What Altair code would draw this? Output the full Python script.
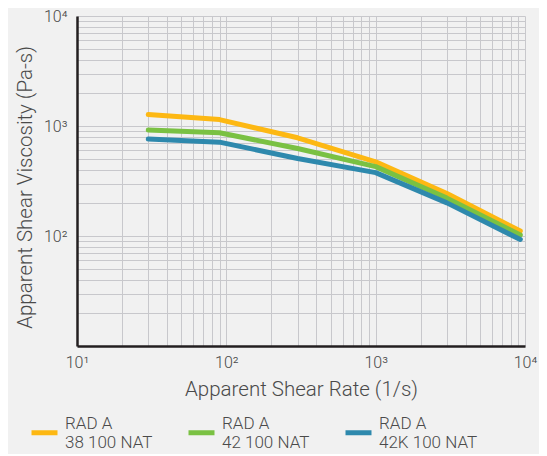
import altair as alt
import pandas as pd

shear_rate = [30, 90, 300, 1000, 3000, 9300]
visc_38 = [1270, 1143, 781, 472, 243, 111]
visc_42 = [918, 867, 624, 427, 221, 102]
visc_42k = [760, 713, 506, 377, 200, 93]
series_names = ["RAD A|38 100 NAT", "RAD A|42 100 NAT", "RAD A|42K 100 NAT"]
series_colors = ["#FDB813", "#7AC143", "#2E89AD"]

rows = []
for name, vals in zip(series_names, [visc_38, visc_42, visc_42k]):
    for x, y in zip(shear_rate, vals):
        rows.append({"rate": x, "visc": y, "series": name})
df = pd.DataFrame(rows)

grid_vals = [k * 10 ** e for e in range(1, 4) for k in range(1, 10)] + [10000]

x_label_expr = ("datum.value == 10 ? '10¹' : datum.value == 100 ? '10²' : "
                "datum.value == 1000 ? '10³' : datum.value == 10000 ? '10⁴' : ''")
y_label_expr = ("datum.value == 100 ? '10²' : datum.value == 1000 ? '10³' : "
                "datum.value == 10000 ? '10⁴' : ''")

FONT = "Roboto"
TXT = "#4a4a4a"

chart = alt.Chart(df).mark_line(strokeWidth=5, strokeCap="round", strokeJoin="round").encode(
    x=alt.X("rate:Q",
            scale=alt.Scale(type="log", domain=[10, 10000], nice=False),
            axis=alt.Axis(values=grid_vals, labelExpr=x_label_expr,
                          title="Apparent Shear Rate (1/s)",
                          titleY=49, titleBaseline="alphabetic",
                          labelPadding=8, labelOverlap=False, labelFlush=False)),
    y=alt.Y("visc:Q",
            scale=alt.Scale(type="log", domain=[10, 10000], nice=False),
            axis=alt.Axis(values=grid_vals, labelExpr=y_label_expr,
                          title="Apparent Shear Viscosity (Pa-s)",
                          titleX=-46, titleY=171, titleBaseline="alphabetic",
                          titleAlign="center", titleAngle=-90,
                          labelPadding=10, labelOverlap=False, labelFlush=False)),
    color=alt.Color("series:N",
                    scale=alt.Scale(domain=series_names, range=series_colors),
                    legend=alt.Legend(title=None, orient="none", direction="horizontal",
                                      columns=3, legendX=-48, legendY=401,
                                      symbolType="stroke", symbolSize=676,
                                      symbolStrokeWidth=5, columnPadding=25,
                                      labelOffset=5, padding=0,
                                      labelBaseline="bottom",
                                      labelExpr="split(datum.label, '|')",
                                      labelFontSize=17, labelFont=FONT,
                                      labelFontWeight=300, labelColor=TXT,
                                      labelLimit=200)),
).properties(
    width=448,
    height=330,
    autosize=alt.AutoSizeParams(type="none"),
    padding={"left": 69, "top": 8, "right": 14, "bottom": 108},
    background="#f1f1f1",
).configure_view(
    stroke=None
).configure_axis(
    grid=True,
    gridColor="#c8c8cc",
    gridWidth=1,
    ticks=False,
    domainColor="#231f20",
    domainWidth=2.5,
    labelFont=FONT,
    labelFontSize=16,
    labelFontWeight=300,
    labelColor=TXT,
    titleFont=FONT,
    titleFontSize=20.5,
    titleFontWeight=300,
    titleColor=TXT,
)

chart.save("out.html", embed_options={"renderer": "svg", "actions": False})
